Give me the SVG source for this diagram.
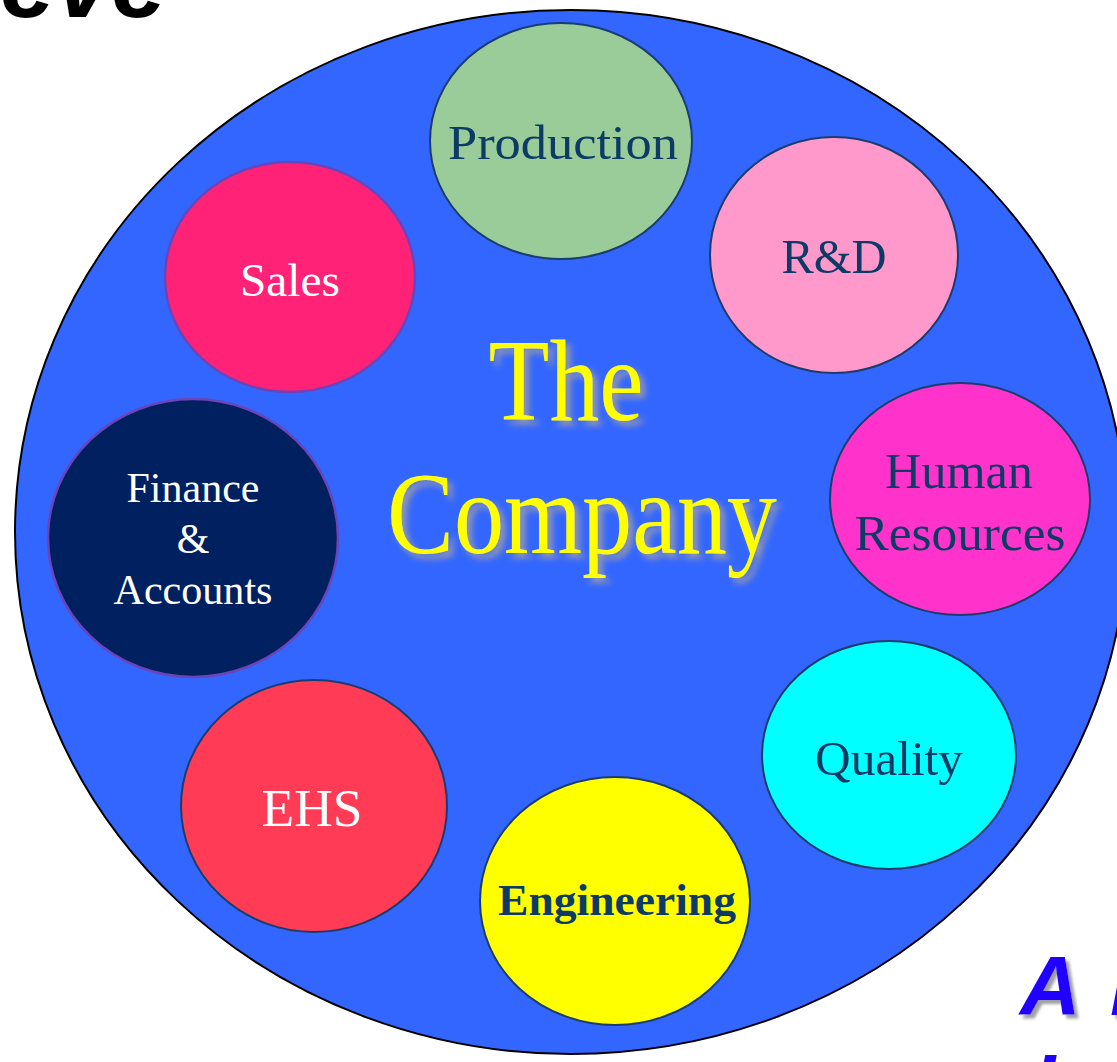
<svg xmlns="http://www.w3.org/2000/svg" width="1117" height="1062" viewBox="0 0 1117 1062">
<defs>
<filter id="shadow" x="-10%" y="-10%" width="130%" height="130%">
<feGaussianBlur in="SourceAlpha" stdDeviation="3" result="b"/>
<feOffset in="b" dx="5" dy="5" result="o"/>
<feFlood flood-color="#9a9aa8" flood-opacity="0.95"/>
<feComposite in2="o" operator="in" result="s"/>
<feMerge><feMergeNode in="s"/><feMergeNode in="SourceGraphic"/></feMerge>
</filter>
<filter id="shadow2" x="-10%" y="-10%" width="130%" height="130%">
<feGaussianBlur in="SourceAlpha" stdDeviation="1.5" result="b"/>
<feOffset in="b" dx="4" dy="4" result="o"/>
<feFlood flood-color="#777" flood-opacity="0.7"/>
<feComposite in2="o" operator="in" result="s"/>
<feMerge><feMergeNode in="s"/><feMergeNode in="SourceGraphic"/></feMerge>
</filter>
</defs>
<style>
.node { stroke: #1a3d6e; stroke-width: 2; }
.purple { stroke: #6a44b8; stroke-width: 2.5; }
.lbl { font-family: "Liberation Serif", "Times New Roman", serif; text-anchor: middle; fill: #0d3b66; }
.white { fill: #ffffff; }
.big { font-family: "Liberation Serif", "Times New Roman", serif; font-size: 116px; text-anchor: middle; fill: #ffff00; }
.corner { font-family: "Liberation Sans", Arial, sans-serif; font-weight: bold; font-style: italic; }
</style>
<rect width="1117" height="1062" fill="#ffffff"/>
<text class="corner" x="0" y="17" font-size="100" fill="#000000">eve</text>
<g id="company">
<ellipse cx="571" cy="532" rx="556" ry="522" fill="#3366ff" stroke="#000000" stroke-width="2"/>
<text class="big" x="566" y="420" filter="url(#shadow)" textLength="155" lengthAdjust="spacingAndGlyphs">The</text>
<text class="big" x="582" y="553" filter="url(#shadow)" textLength="390" lengthAdjust="spacingAndGlyphs">Company</text>
</g>
<g id="connectors"></g>
<g id="production">
<ellipse class="node" cx="561" cy="141" rx="131" ry="118" fill="#99cc99"/>
<text class="lbl" x="563" y="159" font-size="49" textLength="230" lengthAdjust="spacingAndGlyphs">Production</text>
</g>
<g id="rnd">
<ellipse class="node" cx="834" cy="255" rx="124" ry="118" fill="#ff99cc"/>
<text class="lbl" x="834" y="273" font-size="48" textLength="105" lengthAdjust="spacingAndGlyphs">R&amp;D</text>
</g>
<g id="sales">
<ellipse class="purple" cx="290" cy="277" rx="125" ry="115" fill="#ff2277"/>
<text class="lbl white" x="290" y="296" font-size="47" textLength="100" lengthAdjust="spacingAndGlyphs">Sales</text>
</g>
<g id="finance">
<ellipse class="purple" cx="193" cy="538" rx="145" ry="139" fill="#002060"/>
<text class="lbl white" x="193" y="502" font-size="42" textLength="133" lengthAdjust="spacingAndGlyphs">Finance</text>
<text class="lbl white" x="193" y="553" font-size="42">&amp;</text>
<text class="lbl white" x="193" y="604" font-size="42" textLength="159" lengthAdjust="spacingAndGlyphs">Accounts</text>
</g>
<g id="hr">
<ellipse class="node" cx="960" cy="499" rx="130" ry="116" fill="#ff33cc"/>
<text class="lbl" x="959" y="488" font-size="50" textLength="148" lengthAdjust="spacingAndGlyphs">Human</text>
<text class="lbl" x="960" y="550" font-size="50" textLength="211" lengthAdjust="spacingAndGlyphs">Resources</text>
</g>
<g id="quality">
<ellipse class="node" cx="889" cy="755" rx="127" ry="114" fill="#00ffff"/>
<text class="lbl" x="889" y="775" font-size="49" textLength="148" lengthAdjust="spacingAndGlyphs">Quality</text>
</g>
<g id="engineering">
<ellipse class="node" cx="615" cy="901" rx="135" ry="124" fill="#ffff00"/>
<text class="lbl" x="617" y="915" font-weight="bold" font-size="45" textLength="238" lengthAdjust="spacingAndGlyphs">Engineering</text>
</g>
<g id="ehs">
<ellipse class="node" cx="314" cy="806" rx="133" ry="126" fill="#ff3b55"/>
<text class="lbl white" x="312" y="826" font-size="53" textLength="101" lengthAdjust="spacingAndGlyphs">EHS</text>
</g>
<text class="corner" x="1020" y="1015" font-size="84" fill="#2200ff" filter="url(#shadow2)">A</text>
<text class="corner" x="1110" y="1015" font-size="84" fill="#2200ff" filter="url(#shadow2)">N</text>
<text class="corner" x="1032" y="1116" font-size="84" fill="#2200ff">l</text>
</svg>
